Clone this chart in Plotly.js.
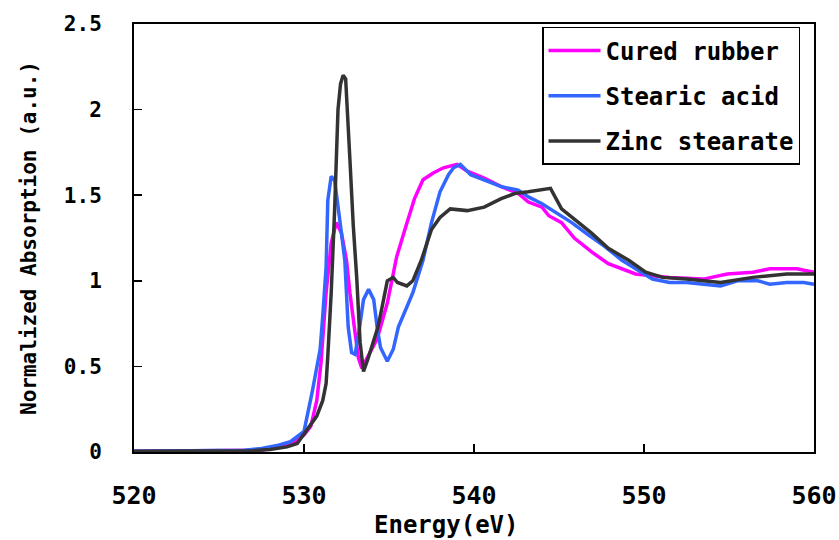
<!DOCTYPE html>
<html>
<head>
<meta charset="utf-8">
<script src="https://cdn.plot.ly/plotly-3.0.1.min.js"></script>
<style>html,body{margin:0;padding:0;background:#fff;}#chart{width:839px;height:540px;}</style>
</head>
<body>
<div id="chart"></div>
<script>
const seriesNames = ["Cured rubber", "Stearic acid", "Zinc stearate"];

const curedX = [520, 525, 527.5, 528.5, 529.3, 530, 530.4, 530.75, 531.0, 531.3, 531.6, 531.9, 532.2, 532.5, 532.7, 533.0, 533.2, 533.4, 534.3, 534.9, 535.45, 536.0, 536.5, 537.0, 537.6, 538.2, 539.0, 539.6, 540.6, 541.6, 542.6, 543.2, 544.0, 544.4, 545.15, 545.9, 546.9, 547.9, 548.7, 549.5, 550.5, 551.5, 553.5, 554.9, 556.4, 557.4, 559.0, 560];
const curedY = [0.005, 0.005, 0.01, 0.03, 0.05, 0.1, 0.15, 0.3, 0.52, 0.93, 1.22, 1.34, 1.28, 1.12, 0.93, 0.70, 0.55, 0.49, 0.66, 0.87, 1.14, 1.32, 1.48, 1.59, 1.63, 1.66, 1.68, 1.64, 1.60, 1.55, 1.51, 1.46, 1.43, 1.38, 1.34, 1.25, 1.17, 1.10, 1.07, 1.04, 1.03, 1.02, 1.01, 1.04, 1.05, 1.07, 1.07, 1.05];

const stearicX = [520, 524, 526.5, 527.5, 528.5, 529.2, 530, 530.5, 530.95, 531.1, 531.3, 531.4, 531.6, 531.8, 532.0, 532.2, 532.4, 532.5, 532.6, 532.8, 533.0, 533.2, 533.5, 533.8, 534.1, 534.3, 534.5, 534.9, 535.25, 535.55, 536.0, 536.4, 537.0, 537.5, 538.0, 538.5, 538.8, 539.2, 539.8, 540.6, 541.6, 542.6, 543.2, 544.0, 544.8, 545.75, 546.7, 547.7, 548.7, 549.5, 550.5, 551.5, 552.5, 553.5, 554.5, 555.5, 556.7, 557.4, 558.4, 559.4, 560];
const stearicY = [0.005, 0.005, 0.01, 0.02, 0.04, 0.06, 0.12, 0.36, 0.6, 0.79, 1.08, 1.47, 1.61, 1.59, 1.45, 1.28, 1.12, 0.93, 0.73, 0.58, 0.57, 0.68, 0.89, 0.95, 0.89, 0.73, 0.61, 0.53, 0.60, 0.73, 0.83, 0.93, 1.12, 1.34, 1.52, 1.62, 1.66, 1.68, 1.62, 1.59, 1.55, 1.53, 1.49, 1.45, 1.40, 1.34, 1.27, 1.20, 1.12, 1.07, 1.01, 0.99, 0.99, 0.98, 0.97, 1.00, 1.00, 0.98, 0.99, 0.99, 0.98];

const zincX = [520, 524, 527, 528, 529, 529.6, 530.15, 530.75, 531.1, 531.3, 531.4, 531.6, 531.8, 531.9, 532.0, 532.15, 532.3, 532.45, 532.6, 532.7, 532.9, 533.1, 533.3, 533.5, 533.75, 534.05, 534.35, 534.6, 534.9, 535.25, 535.5, 536.05, 536.4, 536.9, 537.5, 538.0, 538.6, 539.6, 540.6, 541.6, 542.4, 543.2, 543.95, 544.5, 545.15, 545.9, 546.9, 547.9, 549.1, 550.1, 551.1, 552.5, 554.5, 556.4, 558.4, 560];
const zincY = [0.005, 0.005, 0.008, 0.015, 0.03, 0.05, 0.13, 0.21, 0.30, 0.40, 0.56, 0.93, 1.41, 1.75, 2.0, 2.15, 2.2, 2.18, 1.94, 1.71, 1.32, 1.02, 0.64, 0.47, 0.54, 0.64, 0.73, 0.85, 1.0, 1.02, 0.99, 0.97, 1.0, 1.12, 1.30, 1.37, 1.42, 1.41, 1.43, 1.48, 1.51, 1.52, 1.53, 1.54, 1.42, 1.36, 1.28, 1.19, 1.12, 1.05, 1.02, 1.01, 0.99, 1.02, 1.04, 1.04];

const xTickVals = [520, 530, 540, 550, 560];
const yTickVals = [0, 0.5, 1, 1.5, 2, 2.5];
const yTickText = ["0", "0.5", "1", "1.5", "2", "2.5"];
const xTitle = "Energy(eV)";
const yTitle = "Normalized Absorption (a.u.)";

const FONT = "'DejaVu Sans Mono', 'Liberation Mono', monospace";
const colors = ["#FF00FF", "#3366FF", "#333333"];
const xs = [curedX, stearicX, zincX];
const ys = [curedY, stearicY, zincY];

const traces = seriesNames.map((n, i) => ({
  type: "scatter", mode: "lines", name: n, x: xs[i], y: ys[i],
  legendgroup: "g" + i,
  line: {color: colors[i], width: 3.5}
}));

const layout = {
  width: 839, height: 540,
  margin: {l: 134, r: 25, t: 24, b: 88},
  paper_bgcolor: "#fff", plot_bgcolor: "#fff",
  font: {family: FONT, color: "#000"},
  showlegend: true,
  legend: {
    x: 0.6, y: 0.993, xanchor: "left", yanchor: "top",
    bgcolor: "#fff", bordercolor: "#000", borderwidth: 1.5,
    font: {family: FONT, size: 24, color: "#000", weight: "bold"},
    tracegroupgap: 11, itemwidth: 52
  },
  xaxis: {
    range: [520, 560], tickvals: xTickVals, ticks: "inside", ticklen: 8, tickwidth: 1.5, tickcolor: "#000",
    showline: true, mirror: true, linecolor: "#000", linewidth: 2, showgrid: false, zeroline: false,
    tickfont: {family: FONT, size: 25, color: "#000", weight: "bold"},
    ticklabelstandoff: 20
  },
  yaxis: {
    range: [0, 2.5], tickvals: yTickVals, ticktext: yTickText, ticks: "inside", ticklen: 8, tickwidth: 1.5, tickcolor: "#000",
    showline: true, mirror: true, linecolor: "#000", linewidth: 2, showgrid: false, zeroline: false,
    tickfont: {family: FONT, size: 21, color: "#000", weight: "bold"},
    ticklabelstandoff: 26,
    title: {text: yTitle, font: {family: FONT, size: 21, color: "#000", weight: "bold"}, standoff: 22}
  },
  annotations: [{
    text: xTitle, xref: "paper", yref: "paper", x: 0.46, y: -0.17,
    xanchor: "center", yanchor: "middle", showarrow: false,
    font: {family: FONT, size: 24, color: "#000", weight: "bold"}
  }]
};

Plotly.newPlot("chart", traces, layout, {displayModeBar: false, staticPlot: true});
</script>
</body>
</html>
